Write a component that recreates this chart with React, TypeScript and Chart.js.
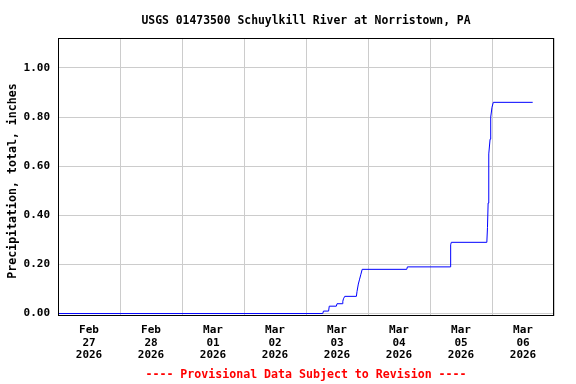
import React, { useEffect, useRef } from "react";
import { Chart, registerables } from "chart.js";

Chart.register(...registerables);

// hours since Feb 27 2026 00:00
const hours = [
  0, 102.5, 102.75, 104.75, 105.0, 107.75, 108.0, 110.0, 110.25, 110.5, 111.0,
  115.5, 115.75, 116.25, 116.75, 117.25, 117.75, 135.0, 135.25, 151.75, 152.0,
  152.25, 166.0, 166.25, 166.5, 166.75, 167.25, 167.5, 168.0, 168.5, 183.75,
];
const precip = [
  0, 0, 0.01, 0.01, 0.03, 0.03, 0.04, 0.04, 0.05, 0.06, 0.07,
  0.07, 0.09, 0.12, 0.14, 0.16, 0.18, 0.18, 0.19, 0.19, 0.28,
  0.29, 0.29, 0.35, 0.45, 0.65, 0.71, 0.8, 0.84, 0.86, 0.86,
];
const dayLabels = [
  ["Feb", "27", "2026"],
  ["Feb", "28", "2026"],
  ["Mar", "01", "2026"],
  ["Mar", "02", "2026"],
  ["Mar", "03", "2026"],
  ["Mar", "04", "2026"],
  ["Mar", "05", "2026"],
  ["Mar", "06", "2026"],
];
const yTicks = [0, 0.2, 0.4, 0.6, 0.8, 1.0];
const titleText = "USGS 01473500 Schuylkill River at Norristown, PA";
const footerText = "---- Provisional Data Subject to Revision ----";
const yTitle = "Precipitation, total, inches";

const FONT = "'DejaVu Sans Mono', monospace";

export default function App() {
  const ref = useRef<HTMLCanvasElement | null>(null);
  useEffect(() => {
    document.body.style.margin = "0";
    const canvas = ref.current!;
    const framePlugin = {
      id: "frame",
      beforeDraw(chart: any) {
        const c = chart.ctx;
        c.save();
        c.fillStyle = "#ffffff";
        c.fillRect(0, 0, chart.width, chart.height);
        c.restore();
      },
      afterDraw(chart: any) {
        const c = chart.ctx;
        const a = chart.chartArea;
        c.save();
        c.strokeStyle = "#000000";
        c.lineWidth = 1;
        c.strokeRect(Math.round(a.left) + 0.5, Math.round(a.top) + 0.5, Math.round(a.right - a.left) - 1, Math.round(a.bottom - a.top) - 1);
        c.textAlign = "center";
        c.textBaseline = "middle";
        c.font = `bold 11.4px ${FONT}`;
        c.fillStyle = "#000000";
        const cx = (a.left + a.right) / 2;
        c.fillText(titleText, cx, 21);
        c.save();
        c.translate(12.5, 181);
        c.rotate(-Math.PI / 2);
        c.font = `bold 11.6px ${FONT}`;
        c.fillText(yTitle, 0, 0);
        c.restore();
        c.font = `bold 11.6px ${FONT}`;
        c.fillStyle = "#ff0000";
        c.fillText(footerText, cx, 375);
        c.restore();
      },
    };
    const chart = new Chart(canvas, {
      type: "line",
      data: {
        datasets: [
          {
            data: hours.map((h, i) => ({ x: h, y: precip[i] })),
            borderColor: "#0000ff",
            borderWidth: 1,
            pointRadius: 0,
            fill: false,
            tension: 0,
          },
        ],
      },
      plugins: [framePlugin],
      options: {
        animation: false,
        responsive: false,
        events: [],
        layout: { padding: { top: 38, right: 22, left: 0, bottom: 0 } },
        plugins: { legend: { display: false }, tooltip: { enabled: false }, title: { display: false } },
        scales: {
          x: {
            type: "linear",
            min: 0,
            max: 192,
            afterBuildTicks: (scale: any) => {
              const t = [];
              for (let v = 0; v <= 192; v += 12) t.push({ value: v });
              scale.ticks = t;
            },
            afterFit: (scale: any) => {
              scale.height = 68;
            },
            grid: {
              drawTicks: false,
              color: (ctx: any) => (ctx.tick && ctx.tick.value % 24 === 0 ? "#cccccc" : "rgba(0,0,0,0)"),
              lineWidth: 1,
            },
            border: { display: false },
            ticks: {
              autoSkip: false,
              maxRotation: 0,
              padding: 8,
              color: "#000000",
              font: { family: FONT, size: 11, weight: "bold", lineHeight: 1.15 },
              callback: (v: any) => {
                const n = Number(v);
                if (n % 24 === 12) return dayLabels[Math.floor(n / 24)] || "";
                return "";
              },
            },
          },
          y: {
            type: "linear",
            min: -0.01,
            max: 1.122,
            afterBuildTicks: (scale: any) => {
              scale.ticks = yTicks.map((v) => ({ value: v }));
            },
            afterFit: (scale: any) => {
              scale.width = 58;
            },
            grid: { drawTicks: false, color: "#cccccc", lineWidth: 1 },
            border: { display: false },
            ticks: {
              padding: 8,
              color: "#000000",
              font: { family: FONT, size: 11, weight: "bold" },
              callback: (v: any) => Number(v).toFixed(2),
            },
          },
        },
      },
    } as any);
    return () => chart.destroy();
  }, []);
  return (
    <div style={{ width: 576, height: 384 }}>
      <canvas ref={ref} width={576} height={384} style={{ display: "block" }} />
    </div>
  );
}
